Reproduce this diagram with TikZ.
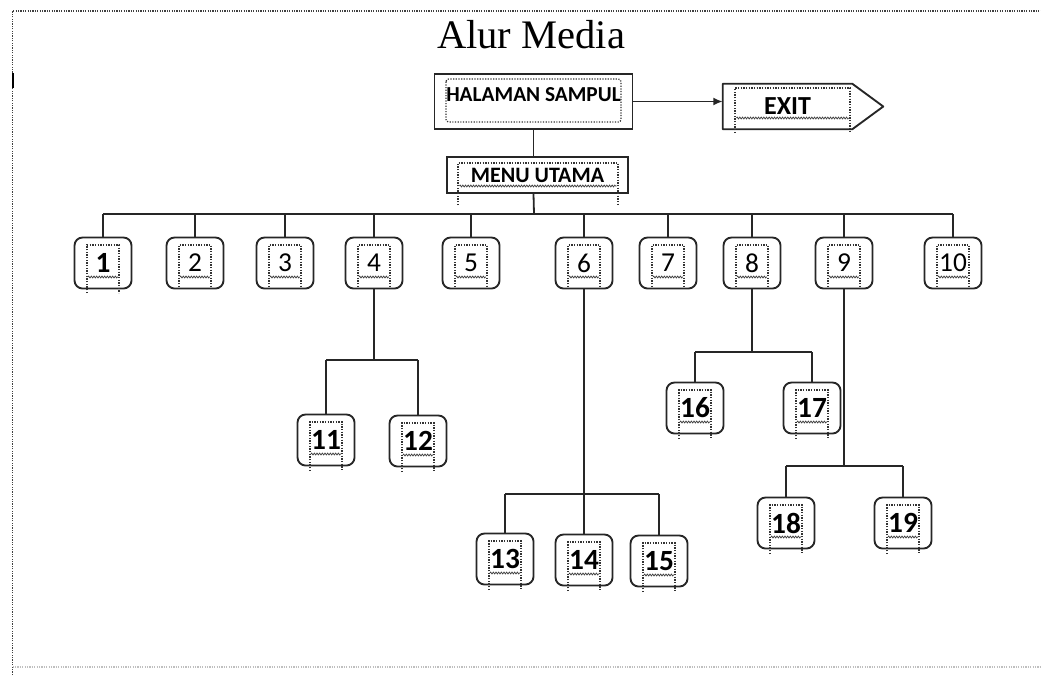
\documentclass[tikz,border=0pt]{standalone}
\usepackage{fontspec}
\setmainfont{Liberation Serif}
\newfontfamily\calfont{Carlito}
\usetikzlibrary{calc,arrows.meta,decorations.pathmorphing}
\tikzset{
  boxline/.style={draw=black!85, line width=1.4pt},
  link/.style={draw=black!85, line width=1.35pt},
  numbox/.style={boxline, rounded corners=6pt, minimum width=42.75pt, minimum height=38.25pt, inner sep=0pt, font=\calfont\fontsize{20.5}{21}\selectfont},
  numboxb/.style={numbox, font=\calfont\bfseries\fontsize{22}{23}\selectfont},
  dots/.style={draw=black!80, line width=0.9pt, dash pattern=on 0.9pt off 1.1pt},
  squig/.style={draw=black!75, line width=0.55pt, decorate, decoration={zigzag, amplitude=0.7pt, segment length=2pt}},
  framedots/.style={draw=black!75, line width=1pt, dash pattern=on 0.9pt off 0.9pt},
}
\newcommand\innerdots[2]{%
  \draw[dots] ($(#1.center)+(-16,#2)$) -- ($(#1.center)+(-16,-18)$) -- ($(#1.center)+(16,-18)$) -- ($(#1.center)+(16,#2)$);
  \draw[squig] ($(#1.center)+(-15,14)$) -- ($(#1.center)+(15,14)$);}
\begin{document}
\begin{tikzpicture}[x=0.75pt, y=-0.75pt]
\useasboundingbox (0,0) rectangle (1041,675);
% frame
\draw[framedots] (12.5,675) -- (12.5,11) -- (1041,11);
\draw[framedots, draw=black!25] (12.5,667) -- (1041,667);
\draw[line width=1.6pt] (13,73) -- (13,88);
% title
\node (title) at (531,35) {\fontsize{30.4}{36}\selectfont Alur Media};
% top boxes
\node[boxline, minimum width=148.5pt, minimum height=41.25pt, inner sep=0pt, text height=8pt, text depth=8pt, font=\calfont\bfseries\fontsize{16}{17}\selectfont] (hal) at (533.5,101.5) {HALAMAN SAMPUL};
\draw[dots, rounded corners=2pt] ($(hal.center)+(-87.5,-22.5)$) rectangle ($(hal.center)+(87.5,20.5)$);
\node[boxline, minimum width=135.75pt, minimum height=27pt, inner sep=0pt, font=\calfont\bfseries\fontsize{16.5}{17}\selectfont] (menu) at (537.5,175) {MENU UTAMA};
\draw[dots] ($(menu.center)+(-79.5,30)$) -- ($(menu.center)+(-79.5,-12)$) -- ($(menu.center)+(80.5,-12)$) -- ($(menu.center)+(80.5,30)$);
\draw[squig] ($(menu.center)+(-78,11)$) -- ($(menu.center)+(79,11)$);
\node[minimum width=96.75pt, minimum height=33.75pt, inner sep=0pt, font=\calfont\bfseries\fontsize{19.5}{20}\selectfont] (exit) at (787.5,106.5) {EXIT};
\draw[boxline, line join=round] (exit.north west) -- (exit.north east) -- ($(exit.east)+(31,0)$) -- (exit.south east) -- (exit.south west) -- cycle;
\draw[dots] ($(exit.center)+(-52.5,26.5)$) -- ($(exit.center)+(-52.5,-18.5)$) -- ($(exit.center)+(62.5,-18.5)$) -- ($(exit.center)+(62.5,26.5)$);
\draw[squig] ($(exit.center)+(-51,11.5)$) -- ($(exit.center)+(61,11.5)$);
\draw[link, -{Latex[length=7pt,width=6pt]}] (hal.east) -- (hal.east -| exit.west);
% level 1
\node[numboxb] (n1) at (103,263) {1};
\node[numbox] (n2) at (195,263) {2};
\node[numbox] (n3) at (285,263) {3};
\node[numbox] (n4) at (374,263) {4};
\node[numbox] (n5) at (471,263) {5};
\node[numbox] (n6) at (584,263) {6};
\node[numbox] (n7) at (668,263) {7};
\node[numbox] (n8) at (752,263) {8};
\node[numbox] (n9) at (844,263) {9};
\node[numbox] (n10) at (953,263) {10};
% level 2
\node[numboxb] (n11) at (326,440) {11};
\node[numboxb] (n12) at (418,441) {12};
\node[numboxb] (n13) at (505,559) {13};
\node[numboxb] (n14) at (584,560) {14};
\node[numboxb] (n15) at (659,561) {15};
\node[numboxb] (n16) at (695,408) {16};
\node[numboxb] (n17) at (812,408) {17};
\node[numboxb] (n18) at (786,523) {18};
\node[numboxb] (n19) at (903,523) {19};
\innerdots{n1}{30}
\foreach \i in {2,...,10} {\innerdots{n\i}{24}}
\foreach \i in {11,...,19} {\innerdots{n\i}{31}}
% junctions
\coordinate (bus) at (534,214);
\coordinate (j4) at (374,360);
\coordinate (j6) at (584,494);
\coordinate (j8) at (752,352);
\coordinate (j9) at (844,466);
% connectors
\draw[link] (hal.south) -- (hal.south |- menu.north);
\draw[link] (hal.south |- menu.south) -- (bus);
\draw[link] (n1.north |- bus) -- (n10.north |- bus);
\foreach \i in {1,...,10} {\draw[link] (n\i.north) -- (n\i.north |- bus);}
\draw[link] (n4.south) -- (j4);
\draw[link] (n11.north |- j4) -- (n12.north |- j4);
\draw[link] (n11.north) -- (n11.north |- j4);
\draw[link] (n12.north) -- (n12.north |- j4);
\draw[link] (n6.south) -- (n14.north);
\draw[link] (n13.north |- j6) -- (n15.north |- j6);
\draw[link] (n13.north) -- (n13.north |- j6);
\draw[link] (n15.north) -- (n15.north |- j6);
\draw[link] (n8.south) -- (j8);
\draw[link] (n16.north |- j8) -- (n17.north |- j8);
\draw[link] (n16.north) -- (n16.north |- j8);
\draw[link] (n17.north) -- (n17.north |- j8);
\draw[link] (n9.south) -- (j9);
\draw[link] (n18.north |- j9) -- (n19.north |- j9);
\draw[link] (n18.north) -- (n18.north |- j9);
\draw[link] (n19.north) -- (n19.north |- j9);
\end{tikzpicture}
\end{document}
